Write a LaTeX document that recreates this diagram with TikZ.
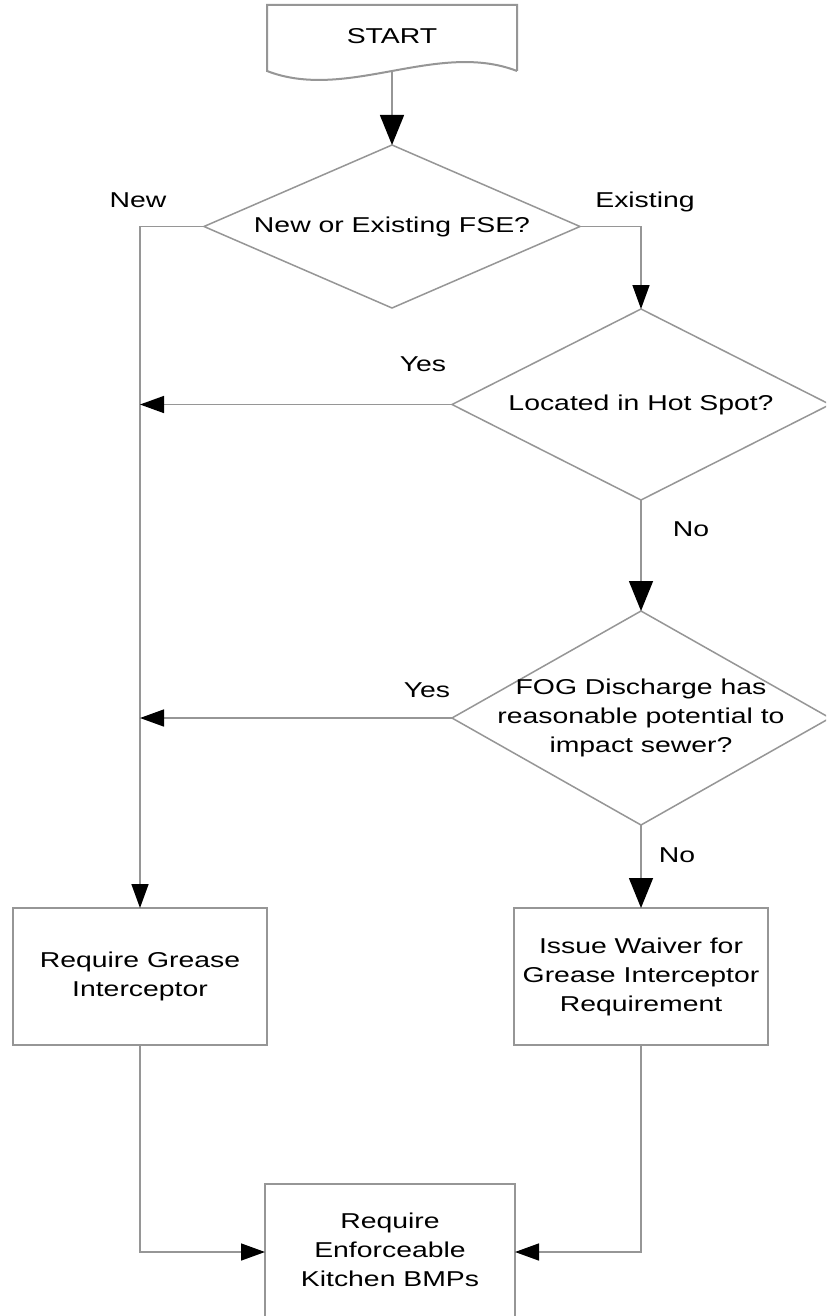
\documentclass[tikz,border=0pt]{standalone}
\usepackage{fontspec}
\setmainfont{Liberation Sans}
\usepackage{graphicx}
\usetikzlibrary{shapes.geometric,arrows.meta}
\definecolor{linegray}{RGB}{150,150,150}
\newcommand{\wide}[1]{\scalebox{1.32}[1]{\begin{tabular}{@{}c@{}}#1\end{tabular}}}

\begin{document}
\begin{tikzpicture}[x=0.5pt,y=-0.5pt,
    every node/.style={outer sep=0pt, inner sep=0pt, text=black, font=\fontsize{10.75}{14.5}\selectfont},
    box/.style={draw=linegray, line width=1pt, minimum height=68.5pt},
    dia/.style={diamond, draw=linegray, line width=0.75pt},
    con/.style={draw=linegray, line width=0.75pt},
    arr/.style={con, -{Triangle[length=15pt,width=12pt,color=black]}},
    arrs/.style={con, -{Triangle[length=12pt,width=8.5pt,color=black]}}]
  \fill[white] (0,0) rectangle (826,1316);
  \useasboundingbox (0,0) rectangle (826,1316);
  \clip (0,0) rectangle (826,1316);
  \node[minimum width=125pt, minimum height=33pt] (start) at (392,38) {\raisebox{3pt}{\wide{START}}};
  \draw[con, line width=1pt] (start.south east) -- (start.north east) -- (start.north west) -- (start.south west)
      .. controls (347,102) and (437,40) .. (start.south east);
  \node[dia, minimum width=188pt, minimum height=81.5pt, label=center:{\wide{New or Existing FSE?}}] (d1) at (392,226.5) {};
  \node[dia, minimum width=189pt, minimum height=95.5pt, label=center:{\wide{Located in Hot Spot?}}] (d2) at (641,404.5) {};
  \node[dia, minimum width=189pt, minimum height=107pt, label=center:{\wide{FOG Discharge has\\reasonable potential to\\impact sewer?}}] (d3) at (641,718) {};
  \node[box, minimum width=127pt] (grease) at (140,976.5) {\wide{Require Grease\\Interceptor}};
  \node[box, minimum width=127pt] (waiver) at (641,976.5) {\wide{Issue Waiver for\\Grease Interceptor\\Requirement}};
  \node[box, minimum width=125pt] (bmps) at (390,1252) {\wide{Require\\Enforceable\\Kitchen BMPs}};
  \node (new) at (138,202) {\wide{New}};
  \node (existing) at (645,202) {\wide{Existing}};
  \node (yes1) at (423,366) {\wide{Yes}};
  \node (no1) at (691,531) {\wide{No}};
  \node (yes2) at (427,692) {\wide{Yes}};
  \node (no2) at (677,857) {\wide{No}};
  \draw[arr] (start.south) -- (d1.north);
  \draw[arrs] (d1.west) -| (grease.north);
  \draw[arrs] (d1.east) -| (d2.north);
  \draw[arrs] (d2.west) -- (d2.west -| grease.north);
  \draw[arr] (d2.south) -- (d3.north);
  \draw[arrs] (d3.west) -- (d3.west -| grease.north);
  \draw[arr] (d3.south) -- (waiver.north);
  \draw[arrs] (grease.south) |- (bmps.west);
  \draw[arrs] (waiver.south) |- (bmps.east);
\end{tikzpicture}
\end{document}
